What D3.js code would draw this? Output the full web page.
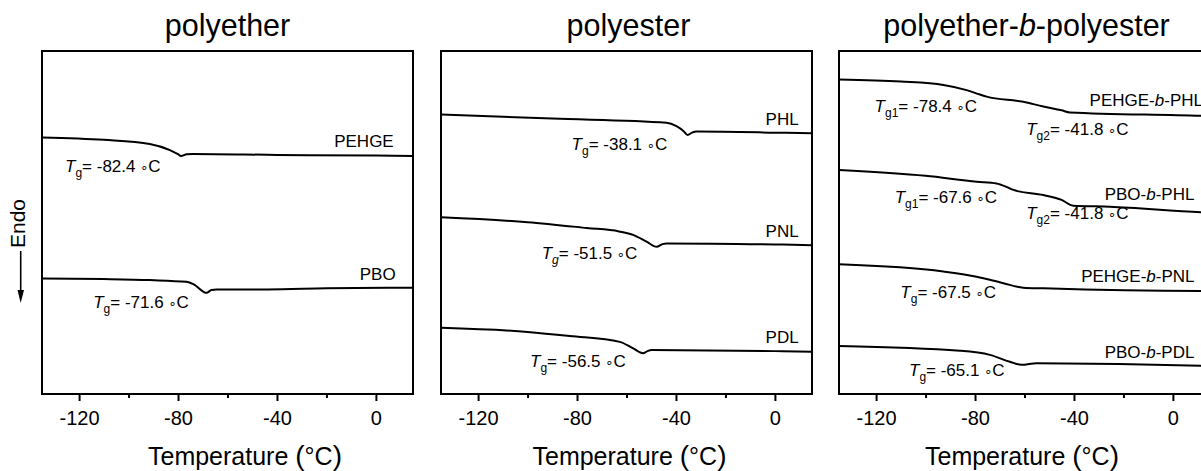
<!DOCTYPE html>
<html>
<head>
<meta charset="utf-8">
<script src="https://cdn.jsdelivr.net/npm/d3@7"></script>
<style>
  body { margin: 0; background: #fff; }
  svg { display: block; font-family: "Liberation Sans", Arial, sans-serif; }
  .tick text { font-family: "Liberation Sans", Arial, sans-serif; }
</style>
</head>
<body>
<div id="chart"></div>
<script>
// temperature range of every panel, degC
const tempDomain = [-135, 15]
const majorTicks = [-120, -80, -40, 0]
const minorTicks = [-100, -60, -20]
// heat flow, arbitrary units (endo down), shared vertical scale
const heatDomain = [0, 100]

const panelTitles = ["polyether", "polyester", "polyether-b-polyester"]

// each curve: [T (degC), heat flow (a.u.)]
const PEHGE = [[-135, 74.8], [-110, 74.1], [-91.4, 72.9], [-83.3, 71.1], [-80, 69.9], [-78.8, 69.4], [-76.5, 69.9], [-73.9, 70.0], [-40, 69.7], [0, 69.5], [15, 69.4]]
const PBO = [[-135, 33.7], [-110, 33.5], [-91.4, 33.2], [-76.5, 32.7], [-73.5, 31.9], [-68.5, 29.5], [-66.5, 30.3], [-64.4, 30.5], [-44, 30.5], [-20, 30.8], [15, 31.0]]

const PHL = [[-135, 81.5], [-90, 80.3], [-43.8, 79.1], [-39.8, 78.1], [-37, 76.7], [-35.3, 75.5], [-33.5, 76.2], [-31.7, 76.5], [0, 76.2], [15, 76.0]]
const PNL = [[-135, 51.5], [-100, 50.1], [-76, 48.4], [-63, 47.4], [-57.3, 46.4], [-51.9, 44.4], [-47.8, 42.9], [-45.5, 43.7], [-43.8, 43.9], [0, 43.6], [15, 43.4]]
const PDL = [[-135, 19.3], [-100, 18.1], [-82.9, 16.9], [-62.7, 15.2], [-57.3, 13.3], [-53.3, 11.9], [-51.5, 12.5], [-49.9, 12.8], [0, 12.5], [15, 12.3]]

const PEHGE_b_PHL = [[-135, 91.7], [-110, 91.1], [-92.8, 90.1], [-83.4, 88.6], [-78, 87.3], [-75.3, 86.7], [-60.5, 85.2], [-52.4, 83.8], [-45, 82.7], [-41.6, 82.1], [11.3, 81.1], [15, 81.0]]
const PBO_b_PHL = [[-135, 65.3], [-100, 63.6], [-79.3, 61.9], [-71.3, 61.4], [-67, 60.3], [-64.5, 59.5], [-52.4, 58.0], [-45, 56.6], [-40.3, 54.9], [-25.5, 54.6], [11.3, 53.0], [15, 52.9]]
const PEHGE_b_PNL = [[-135, 37.8], [-92.8, 35.7], [-79.3, 34.2], [-68.5, 32.3], [-60.5, 31.0], [-52.4, 30.8], [11.3, 30.0], [15, 30.0]]
const PBO_b_PDL = [[-135, 14.0], [-86.1, 12.6], [-74, 11.4], [-65.9, 9.4], [-61.2, 8.5], [-55.1, 9.0], [11.3, 8.2], [15, 8.1]]

const panelCurves = [
  [PEHGE, PBO],
  [PHL, PNL, PDL],
  [PEHGE_b_PHL, PBO_b_PHL, PEHGE_b_PNL, PBO_b_PDL]
]

// sample names: [panel, name, T, heat flow]
const sampleLabels = [
  [0, "PEHGE", 7.2, 72.1],
  [0, "PBO", 8.0, 33.2],
  [1, "PHL", 9.6, 78.4],
  [1, "PNL", 9.6, 45.8],
  [1, "PDL", 9.6, 14.8],
  [2, "PEHGE-b-PHL", -33.7, 84.0],
  [2, "PBO-b-PHL", -27.6, 56.6],
  [2, "PEHGE-b-PNL", -37.1, 32.7],
  [2, "PBO-b-PDL", -27.6, 10.4]
]

// glass transitions: [panel, subscript, value, T, heat flow]
const tgLabels = [
  [0, "g", "-82.4", -125.7, 64.7],
  [0, "g", "-71.6", -114.3, 25.0],
  [1, "g", "-38.1", -82.2, 71.1],
  [1, "g*", "-51.5", -94.3, 39.3],
  [1, "g", "-56.5", -99.0, 7.8],
  [2, "g1", "-78.4", -120.6, 82.3],
  [2, "g2", "-41.8", -59.3, 75.5],
  [2, "g1", "-67.6", -112.5, 55.6],
  [2, "g2", "-41.8", -59.3, 51.0],
  [2, "g", "-67.5", -110.2, 27.9],
  [2, "g", "-65.1", -106.7, 5.3]
]

const width = 1201, height = 471
const panelLeft = [42, 441, 839]
const panelW = 371
const plotTop = 51, plotBottom = 394
const axisTitleX = [245, 629.5, 1022]

const svg = d3.select("#chart").append("svg")
  .attr("width", width)
  .attr("height", height)

const yScale = d3.scaleLinear().domain(heatDomain).range([plotBottom, plotTop])

// split "PEHGE-b-PHL" so the b is italic
function nameSpans(sel, name) {
  const parts = name.split("-b-")
  parts.forEach((p, i) => {
    if (i > 0) {
      sel.append("tspan").text("-")
      sel.append("tspan").attr("font-style", "italic").text("b")
      sel.append("tspan").text("-")
    }
    sel.append("tspan").text(p)
  })
}

panelTitles.forEach((title, pi) => {
  const xScale = d3.scaleLinear().domain(tempDomain).range([panelLeft[pi], panelLeft[pi] + panelW])
  const g = svg.append("g")

  // title
  const t = g.append("text")
    .attr("x", xScale(-60) + (pi === 0 ? 0 : 2))
    .attr("y", 36)
    .attr("text-anchor", "middle")
    .attr("font-size", 30.5)
  nameSpans(t, title)

  // axes
  g.append("g")
    .attr("transform", `translate(0,${plotBottom})`)
    .call(d3.axisBottom(xScale).tickValues(minorTicks).tickSize(4).tickFormat(""))
    .call(a => a.select(".domain").remove())
    .call(a => a.selectAll("line").attr("stroke-width", 2))

  g.append("g")
    .attr("transform", `translate(0,${plotBottom})`)
    .call(d3.axisBottom(xScale).tickValues(majorTicks).tickSize(7).tickPadding(10).tickFormat(d => String(d)))
    .call(a => a.select(".domain").remove())
    .call(a => a.selectAll("line").attr("stroke-width", 2))
    .call(a => a.selectAll("text").attr("font-size", 20).attr("fill", "#000"))

  // frame
  g.append("rect")
    .attr("x", xScale(tempDomain[0]))
    .attr("y", plotTop)
    .attr("width", xScale(tempDomain[1]) - xScale(tempDomain[0]))
    .attr("height", plotBottom - plotTop)
    .attr("fill", "none")
    .attr("stroke", "#000")
    .attr("stroke-width", 2)

  // axis title
  const at = g.append("text")
    .attr("x", axisTitleX[pi])
    .attr("y", 465)
    .attr("text-anchor", "middle")
    .attr("font-size", 25)
  at.append("tspan").text("Temperature ")
  at.append("tspan").attr("font-size", 28).text("(")
  at.append("tspan").text("°C")
  at.append("tspan").attr("font-size", 28).text(")")

  // curves
  const line = d3.line()
    .x(d => xScale(d[0]))
    .y(d => yScale(d[1]))
    .curve(d3.curveMonotoneX)

  g.selectAll("path.curve")
    .data(panelCurves[pi])
    .join("path")
    .attr("class", "curve")
    .attr("d", line)
    .attr("fill", "none")
    .attr("stroke", "#000")
    .attr("stroke-width", 2)

  // sample names
  sampleLabels.filter(d => d[0] === pi).forEach(d => {
    const s = g.append("text")
      .attr("x", xScale(d[2]))
      .attr("y", yScale(d[3]))
      .attr("text-anchor", pi === 2 ? "start" : "end")
      .attr("font-size", 17)
    nameSpans(s, d[1])
  })

  // Tg annotations
  tgLabels.filter(d => d[0] === pi).forEach(d => {
    const s = g.append("text")
      .attr("x", xScale(d[3]))
      .attr("y", yScale(d[4]))
      .attr("font-size", 17)
    s.append("tspan").attr("font-style", "italic").text("T")
    const italicSub = d[1].endsWith("*")
    s.append("tspan")
      .attr("font-size", 12)
      .attr("dy", 5)
      .attr("font-style", italicSub ? "italic" : null)
      .text(d[1].replace("*", ""))
    s.append("tspan").attr("dy", -5).text(`= ${d[2]} `)
    s.append("tspan").attr("font-family", "DejaVu Sans").attr("font-size", 13).text("\u2218")
    s.append("tspan").text("C")
  })
})

// Endo arrow on the left
svg.append("text")
  .attr("transform", "translate(25,248) rotate(-90)")
  .attr("font-size", 21)
  .text("Endo")

svg.append("line")
  .attr("x1", 20.7).attr("x2", 20.7)
  .attr("y1", 251).attr("y2", 292)
  .attr("stroke", "#000")
  .attr("stroke-width", 1.6)

svg.append("path")
  .attr("d", d3.line()([[17.5, 290], [24, 290], [20.7, 303]]))
  .attr("fill", "#000")
</script>
</body>
</html>
